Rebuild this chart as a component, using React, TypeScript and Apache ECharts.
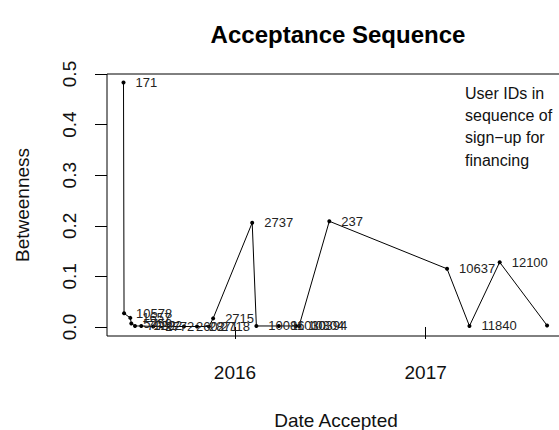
import React, { useEffect, useRef } from "react";
import * as echarts from "echarts";

// Data
const acceptDates = [
  "2015-06-01", "2015-06-02", "2015-06-14", "2015-06-16", "2015-06-23",
  "2015-07-05", "2015-07-28", "2015-09-25", "2015-10-20", "2015-11-12",
  "2015-11-20", "2016-02-03", "2016-02-11", "2016-03-25", "2016-04-27",
  "2016-05-03", "2016-06-30", "2017-02-11", "2017-03-26", "2017-05-23",
  "2017-08-22",
];
const betweenness = [
  0.483, 0.027, 0.018, 0.007, 0.002,
  0.002, 0.001, 0.001, 0.001, 0.001,
  0.017, 0.206, 0.002, 0.002, 0.002,
  0.002, 0.209, 0.115, 0.002, 0.128,
  0.003,
];
const userIds = [
  "171", "10578", "1657", "5759", "7992",
  "1292", "2772", "2602", "2871", "2718",
  "2715", "2737", "10086", "11030", "10304",
  "10394", "237", "10637", "11840", "12100",
  "",
];
const yTicks = [0, 0.1, 0.2, 0.3, 0.4, 0.5];
const xTickYears = ["2016-01-01", "2017-01-01"];
const legendLines = ["User IDs in", "sequence of", "sign\u2212up for", "financing"];

const toTs = (s: string) => Date.parse(s + "T00:00:00Z");
const DAY = 86400000;

export default function App() {
  const ref = useRef<HTMLDivElement>(null);
  useEffect(() => {
    if (!ref.current) return;
    document.body.style.margin = "0";
    const chart = echarts.init(ref.current, null, { renderer: "svg" });
    const font = "Liberation Sans, Arial, Helvetica, sans-serif";
    const base2016 = toTs("2016-01-01");
    const xMin = base2016 - 245.7 * DAY;
    const xMax = base2016 + 633.4 * DAY;
    const tickTs = xTickYears.map(toTs);
    const data = acceptDates.map((d, i) => [toTs(d), betweenness[i]]);
    chart.setOption({
      animation: false,
      backgroundColor: "#fff",
      grid: {
        left: 107,
        right: -6,
        top: 74,
        bottom: 94,
        containLabel: false,
        outerBoundsMode: "none",
        show: true,
        borderColor: "#000",
        borderWidth: 1,
        backgroundColor: "transparent",
      },
      xAxis: {
        type: "value",
        min: xMin,
        max: xMax,
        axisLine: { show: false },
        splitLine: { show: false },
        axisTick: {
          show: true,
          length: 12,
          customValues: tickTs,
          lineStyle: { color: "#000", width: 1 },
        },
        axisLabel: {
          customValues: tickTs,
          margin: 27,
          fontSize: 19,
          fontFamily: font,
          color: "#111",
          formatter: (v: number) => String(new Date(v).getUTCFullYear()),
        },
        name: "Date Accepted",
        nameLocation: "middle",
        nameGap: 75,
        nameTextStyle: { fontSize: 19, lineHeight: 19, fontFamily: font, color: "#111" },
      },
      yAxis: {
        type: "value",
        min: -0.0178,
        max: 0.5,
        axisLine: { show: false },
        splitLine: { show: false },
        axisTick: {
          show: true,
          length: 12,
          customValues: yTicks,
          lineStyle: { color: "#000", width: 1 },
        },
        axisLabel: {
          customValues: yTicks,
          rotate: 90,
          margin: 28,
          fontSize: 19,
          fontFamily: font,
          color: "#111",
          formatter: (v: number) => v.toFixed(1),
        },
        name: "Betweenness",
        nameLocation: "middle",
        nameGap: 75,
        nameRotate: 90,
        nameTextStyle: { fontSize: 19, fontFamily: font, color: "#111" },
      },
      graphic: [
        {
          type: "text",
          x: 338,
          y: 34,
          style: {
            text: "Acceptance Sequence",
            textAlign: "center",
            textVerticalAlign: "middle",
            font: `bold 24px ${font}`,
            fill: "#000",
          },
        },
        {
          type: "text",
          x: 465,
          y: 82,
          style: {
            text: legendLines.join("\n"),
            textAlign: "left",
            textVerticalAlign: "top",
            font: `16px ${font}`,
            lineHeight: 22.3,
            fill: "#111",
          },
        },
      ],
      series: [
        {
          type: "line",
          data,
          symbol: "circle",
          symbolSize: 4,
          itemStyle: { color: "#000" },
          lineStyle: { color: "#000", width: 1 },
          label: {
            show: true,
            position: "right",
            distance: 10,
            fontSize: 13,
            fontFamily: font,
            color: "#222",
            formatter: (p: any) => userIds[p.dataIndex],
          },
        },
      ],
    });
    return () => chart.dispose();
  }, []);
  return <div ref={ref} style={{ width: 559, height: 430 }} />;
}
